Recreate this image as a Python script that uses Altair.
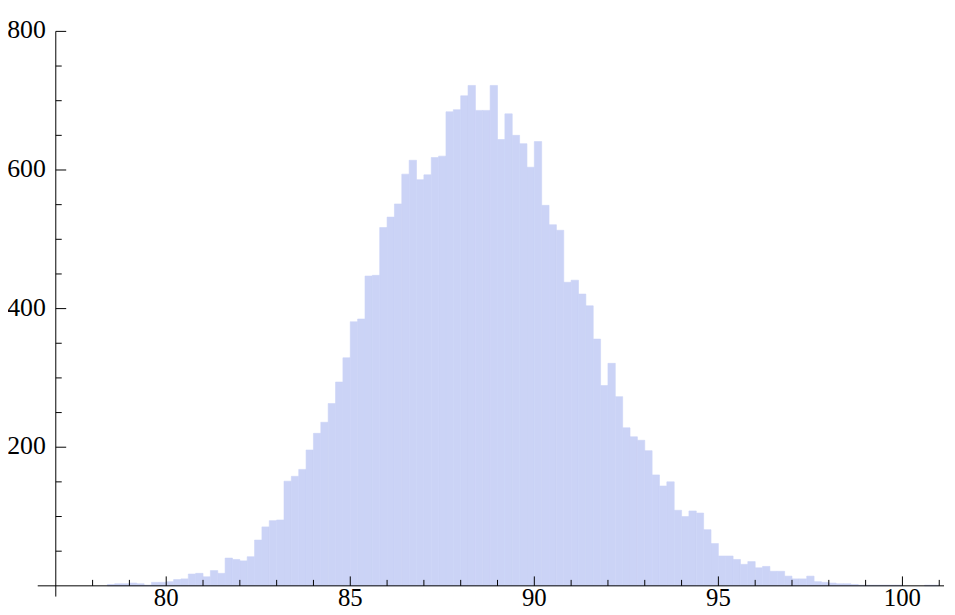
import altair as alt
import pandas as pd

# ---- data ----
BIN_START = 78.4
BIN_WIDTH = 0.2
COUNTS = [
    2, 3, 3, 4, 3, 1, 5, 5, 6, 9,          # 78.4 - 80.2
    10, 17, 18, 13, 22, 18, 40, 38, 36, 42,  # 80.4 - 82.2
    66, 85, 94, 95, 151, 158, 168, 196, 220, 236,  # 82.4 - 84.2
    263, 294, 329, 381, 385, 447, 448, 517, 532, 551,  # 84.4 - 86.2
    594, 614, 586, 593, 618, 620, 684, 687, 707, 722,  # 86.4 - 88.2
    686, 686, 722, 644, 681, 650, 638, 604, 641, 549,  # 88.4 - 90.2
    521, 513, 438, 441, 421, 404, 356, 289, 321, 273,  # 90.4 - 92.2
    228, 215, 210, 195, 160, 144, 150, 109, 100, 108,  # 92.4 - 94.2
    105, 81, 61, 43, 43, 38, 31, 35, 26, 28,           # 94.4 - 96.2
    21, 21, 14, 10, 10, 14, 6, 5, 4, 3,                # 96.4 - 98.2
    3, 2, 1, 1, 1, 1, 1, 1, 0, 0,                      # 98.4 - 100.2
    0, 1, 1,                                           # 100.4 - 100.8
]
X_MAJOR = [80, 85, 90, 95, 100]
X_MINOR = [78, 79, 81, 82, 83, 84, 86, 87, 88, 89, 91, 92, 93, 94, 96, 97, 98, 99, 101]
Y_MAJOR = [200, 400, 600, 800]
Y_MINOR = [50, 100, 150, 250, 300, 350, 450, 500, 550, 650, 700, 750]
X_DOMAIN = [76.51, 101.13]
Y_DOMAIN = [-15.5, 800]
Y_AXIS_AT = 77

BAR_COLOR = "#CBD3F6"
FONT = "Liberation Serif"
W, H = 914, 570

starts = [round(BIN_START + BIN_WIDTH * i, 1) for i in range(len(COUNTS))]
bars_df = pd.DataFrame({
    "start": starts,
    "end": [round(s + BIN_WIDTH, 1) for s in starts],
    "count": COUNTS,
})
bars_df = bars_df[bars_df["count"] > 0]

XS = alt.Scale(domain=X_DOMAIN, nice=False, zero=False)
YS = alt.Scale(domain=Y_DOMAIN, nice=False, zero=False)

bars = alt.Chart(bars_df).mark_rect(
    color=BAR_COLOR, stroke=BAR_COLOR, strokeWidth=0.6
).encode(
    x=alt.X("start:Q", scale=XS, axis=None),
    x2="end:Q",
    y=alt.Y("count:Q", scale=YS, axis=None),
    y2=alt.datum(0),
)

one = pd.DataFrame({"a": [0]})
x_line = alt.Chart(one).mark_rule(color="black", strokeWidth=1).encode(
    x=alt.value(0), x2=alt.value(W), y=alt.datum(0)
)
y_line = alt.Chart(one).mark_rule(color="black", strokeWidth=1).encode(
    x=alt.datum(Y_AXIS_AT), y=alt.value(0), y2=alt.value(H)
)

xmaj_df = pd.DataFrame({"v": X_MAJOR, "label": [str(v) for v in X_MAJOR]})
xmin_df = pd.DataFrame({"v": X_MINOR})
ymaj_df = pd.DataFrame({"v": Y_MAJOR, "label": [str(v) for v in Y_MAJOR]})
ymin_df = pd.DataFrame({"v": Y_MINOR})

x_major_ticks = alt.Chart(xmaj_df).mark_rule(color="black", strokeWidth=1, y2Offset=-9.5).encode(
    x="v:Q", y=alt.datum(0), y2=alt.datum(0)
)
x_minor_ticks = alt.Chart(xmin_df).mark_rule(color="black", strokeWidth=1, y2Offset=-6).encode(
    x="v:Q", y=alt.datum(0), y2=alt.datum(0)
)
y_major_ticks = alt.Chart(ymaj_df).mark_rule(color="black", strokeWidth=1, x2Offset=10.5).encode(
    y="v:Q", x=alt.datum(Y_AXIS_AT), x2=alt.datum(Y_AXIS_AT)
)
y_minor_ticks = alt.Chart(ymin_df).mark_rule(color="black", strokeWidth=1, x2Offset=6).encode(
    y="v:Q", x=alt.datum(Y_AXIS_AT), x2=alt.datum(Y_AXIS_AT)
)

x_labels = alt.Chart(xmaj_df).mark_text(
    font=FONT, fontSize=25, color="black", align="center", baseline="middle", dy=12.5
).encode(x="v:Q", y=alt.datum(0), text="label:N")
y_labels = alt.Chart(ymaj_df).mark_text(
    font=FONT, fontSize=26, color="black", align="right", baseline="middle", dx=-10, dy=-1
).encode(x=alt.datum(Y_AXIS_AT), y="v:Q", text="label:N")

chart = alt.layer(
    bars, x_line, y_line, x_major_ticks, x_minor_ticks,
    y_major_ticks, y_minor_ticks, x_labels, y_labels,
).properties(
    width=W, height=H,
    autosize=alt.AutoSizeParams(type="none"),
    padding={"left": 30, "top": 21, "right": 3, "bottom": 16},
).configure_view(stroke=None)

chart.save("out.html", embed_options={"renderer": "svg", "actions": False})
